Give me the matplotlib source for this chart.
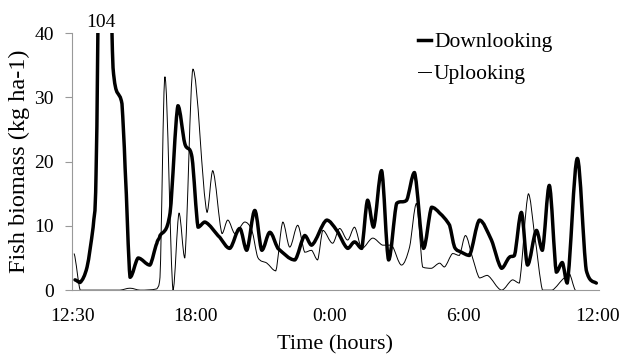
import matplotlib
matplotlib.use("Agg")
import matplotlib.pyplot as plt
from matplotlib.path import Path
from matplotlib.patches import PathPatch
from matplotlib.lines import Line2D

# time in hours since 12:30, biomass in kg/ha
down_t = [0.13, 0.36, 0.67, 0.94, 1.07, 1.38, 1.83, 2.23, 2.37, 2.59, 2.95, 3.48, 3.79, 3.93,
          4.38, 4.73, 5.04, 5.36, 5.63, 5.94, 6.61, 7.05, 7.50, 7.81, 8.17, 8.48, 8.84, 9.20,
          9.96, 10.40, 10.71, 11.38, 11.83, 12.32, 12.63, 12.95, 13.21, 13.48, 13.84, 14.15,
          14.51, 14.96, 15.31, 15.71, 16.07, 16.43, 16.88, 17.10, 17.41, 17.77, 18.21, 18.75,
          19.20, 19.55, 19.78, 20.09, 20.36, 20.76, 21.03, 21.34, 21.65, 21.92, 22.14, 22.59,
          22.99, 23.44]
down_v = [1.6, 1.2, 3.6, 9.8, 18, 104, 34.6, 29, 19, 2, 5, 3.9, 7.3, 8.5,
          12, 28.7, 22.8, 20.7, 9.8, 10.6, 8.2, 6.5, 9.6, 6.2, 12.4, 6.2, 9, 6.5,
          4.7, 8.5, 7, 10.9, 9.3, 6.5, 7.5, 6.5, 14, 9.8, 18.6, 4.7,
          13.5, 14, 18.3, 6.5, 12.9, 12, 10.1, 6.7, 5.9, 5.4, 10.9, 7.8,
          3.4, 5.1, 5.4, 12.1, 3.9, 9.3, 6.2, 16.3, 2.8, 4.3, 1.1, 20.5,
          3.1, 1.1]

up_t = [0.09, 0.36, 2.14, 2.59, 3.04, 3.79, 3.93, 4.15, 4.51, 4.78, 5.04, 5.40, 6.03, 6.29,
        6.70, 6.96, 7.28, 7.72, 8.04, 8.30, 8.71, 9.11, 9.42, 9.73, 10.09, 10.40, 10.71,
        10.98, 11.21, 11.65, 11.96, 12.32, 12.63, 12.95, 13.44, 13.88, 14.29, 14.73, 15.09,
        15.40, 15.67, 16.07, 16.43, 16.65, 17.01, 17.32, 17.59, 17.90, 18.21, 18.57, 19.20,
        19.69, 20.00, 20.40, 20.67, 21.03, 21.47, 22.01, 22.23, 22.50]
up_v = [5.7, 0, 0, 0.3, 0, 0.2, 2, 33.2, 0, 12, 5, 34.4, 12.1, 18.6,
        8.8, 10.9, 8.8, 10.6, 9.3, 5.1, 4.2, 3, 10.6, 6.7, 10.1, 5.9, 6.2,
        4.7, 9.3, 7.3, 9.6, 7.8, 9.8, 6.5, 8.1, 7, 7, 3.9, 6.7,
        13.5, 3.6, 3.4, 4.2, 3.6, 5.7, 5.4, 8.5, 5.1, 1.9, 2.3, 0,
        1.6, 1.1, 15, 8.8, 0, 0, 1.9, 2.6, 0]

tick_pos = [0, 5.5, 11.5, 17.5, 23.5]
tick_lab = ["12:30", "18:00", "0:00", "6:00", "12:00"]


def smooth_path(xs, ys):
    # smoothed line: bezier through the points, control points kept inside each segment
    n = len(xs)
    verts = [(xs[0], ys[0])]
    codes = [Path.MOVETO]
    for i in range(n - 1):
        x0, y0 = xs[max(i - 1, 0)], ys[max(i - 1, 0)]
        x1, y1 = xs[i], ys[i]
        x2, y2 = xs[i + 1], ys[i + 1]
        x3, y3 = xs[min(i + 2, n - 1)], ys[min(i + 2, n - 1)]
        lo, hi = min(y1, y2), max(y1, y2)
        c1y = min(max(y1 + (y2 - y0) / 6, lo), hi)
        c2y = min(max(y2 - (y3 - y1) / 6, lo), hi)
        verts += [(x1 + (x2 - x1) / 3, c1y), (x2 - (x2 - x1) / 3, c2y), (x2, y2)]
        codes += [Path.CURVE4] * 3
    return Path(verts, codes)


plt.rcParams['font.family'] = ['Liberation Serif', 'DejaVu Serif']

fig = plt.figure(figsize=(6.27, 3.56), dpi=100)
ax = fig.add_axes([0.115, 0.185, 0.84, 0.722])

ax.add_patch(PathPatch(smooth_path(down_t, down_v), fill=False, edgecolor='black',
                       lw=2.5, joinstyle='round', capstyle='round'))
ax.add_patch(PathPatch(smooth_path(up_t, up_v), fill=False, edgecolor='black',
                       lw=0.7, joinstyle='round'))

ax.set_xlim(0, 23.55)
ax.set_ylim(0, 40)
ax.set_yticks([0, 10, 20, 30, 40])
ax.set_xticks(tick_pos)
ax.set_xticklabels(tick_lab)
ax.tick_params(axis='y', direction='out', length=5, color='#999999', labelsize=14, pad=8)
ax.tick_params(axis='x', length=0, labelsize=14, pad=13)
for s in ['top', 'right']:
    ax.spines[s].set_visible(False)
for s in ['left', 'bottom']:
    ax.spines[s].set_color('#999999')
    ax.spines[s].set_linewidth(0.8)

ax.set_xlabel('Time (hours)', fontsize=16, labelpad=7)
ax.set_ylabel('Fish biomass (kg ha-1)', fontsize=17.5, labelpad=3)

ax.text(1.3, 40.3, '104', fontsize=14, ha='center', va='bottom')

handles = [Line2D([], [], color='black', lw=2.5), Line2D([], [], color='black', lw=0.7)]
ax.legend(handles, ['Downlooking', 'Uplooking'], loc='upper left',
          bbox_to_anchor=(0.636, 1.045), frameon=False, fontsize=15.5,
          handlelength=0.6, handletextpad=0.15, labelspacing=0.55, borderpad=0)

fig.savefig('out.png', dpi=100)
